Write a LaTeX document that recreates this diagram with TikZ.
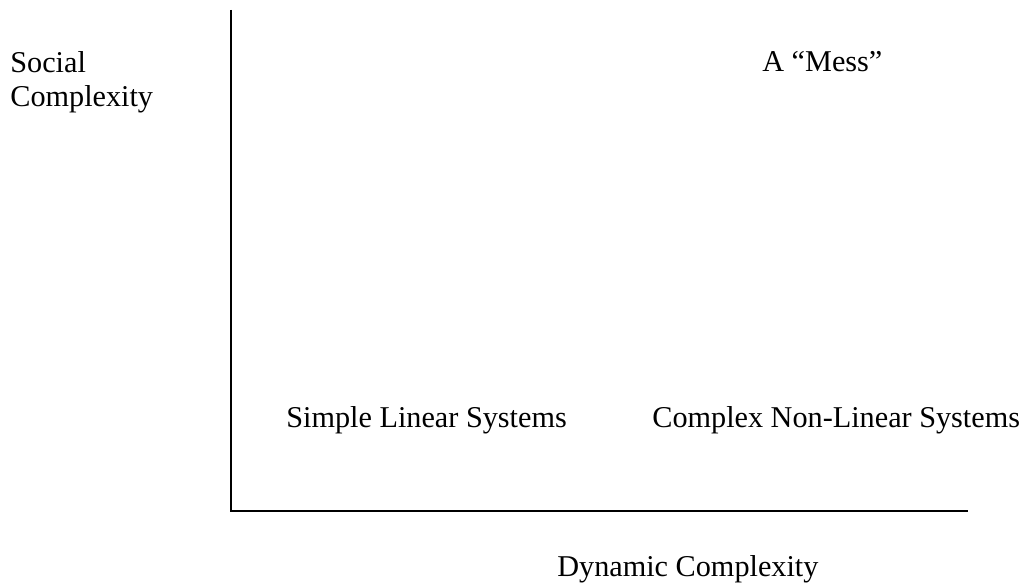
\documentclass[tikz,border=0pt]{standalone}
\usepackage{fontspec}
\setmainfont{Liberation Serif}
\usepackage{tikz}
\usetikzlibrary{positioning}

\begin{document}
\begin{tikzpicture}[x=0.2mm, y=-0.2mm,
  font=\fontsize{17.2}{19.3}\selectfont,
  lbl/.style={inner sep=0pt, anchor=base west},
  axis/.style={line width=1.1pt}]
\useasboundingbox (0,0) rectangle (1024,583);
% axes
\coordinate (ytop) at (231,10);
\coordinate (origin) at (231,511);
\coordinate (xend) at (968,511);
\draw[axis] (ytop) -- (origin) -- (xend);
% axis titles
\node[inner sep=0pt, anchor=north west, align=left] (social) at (10,51) {Social\\Complexity};
\node[lbl] (dynamic) at (557,577) {Dynamic Complexity};
% quadrant labels
\node[lbl] (mess) at (762,72) {A ``Mess''};
\node[lbl] (simple) at (286,428) {Simple Linear Systems};
\node[lbl] (complex) at (652,428) {Complex Non-Linear Systems};
\end{tikzpicture}
\end{document}
